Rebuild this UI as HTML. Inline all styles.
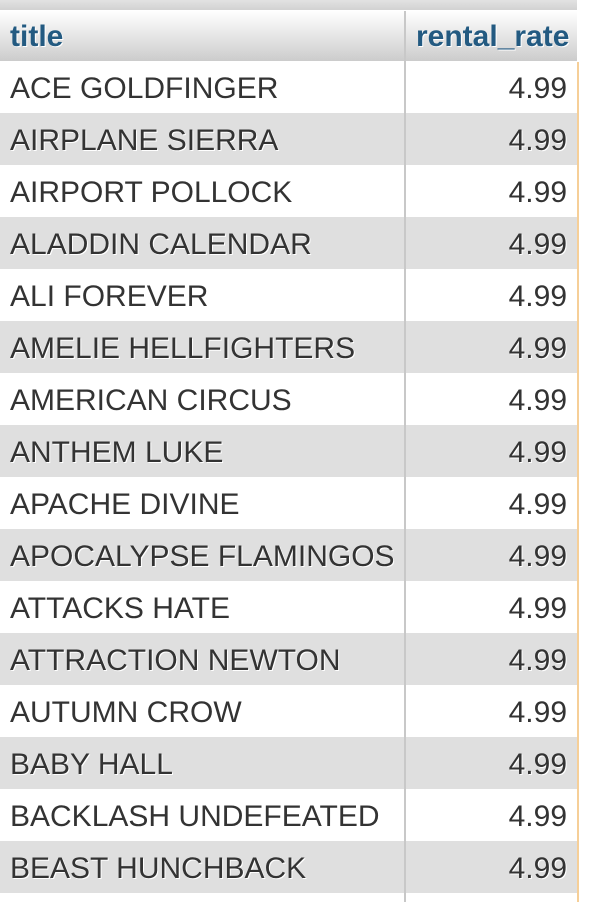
<!DOCTYPE html>
<html><head><meta charset="utf-8">
<style>
html,body{margin:0;padding:0;background:#fff;width:592px;height:902px;overflow:hidden;font-family:"Liberation Sans",Arial,sans-serif;}
#wrap{position:absolute;left:0;top:0;width:592px;height:902px;}
#topbar{position:absolute;left:0;top:0;width:577px;height:10px;background:linear-gradient(#e2e2e2,#d2d2d2);}
table{position:absolute;left:0;top:11px;border-collapse:collapse;width:577px;table-layout:fixed;}
th{height:50px;padding:2px 10px 0 10px;box-sizing:border-box;text-align:left;font-size:30px;font-weight:bold;color:#235a81;text-shadow:1px 1px 0 #fff;background:linear-gradient(#ffffff,#cccccc);}
th.r{text-align:right;}
td{height:52px;padding:3px 10px 0 10px;font-size:30px;color:#333;text-shadow:1px 1px 0 #fff;box-sizing:border-box;white-space:nowrap;}
td.r{text-align:right;}
tr.odd td{background:#fff;}
tr.even td{background:#dfdfdf;}
col.c1{width:405px;}
td.c1,th.c1{border-right:2px solid #c8c8c8;}
#divline{position:absolute;left:404px;top:842px;width:2px;height:60px;background:#c8c8c8;}
#orange{position:absolute;left:577px;top:62px;width:2px;height:840px;background:#f6cf98;}
</style></head>
<body>
<div id="wrap">
<div id="topbar"></div>
<table>
<colgroup><col class="c1"><col></colgroup>
<thead><tr>
<th class="c1">title</th>
<th class="r">rental_rate</th>
</tr></thead>
<tbody id="tb"></tbody>
</table>
<div id="divline"></div>
<div id="orange"></div>
</div>
<script>
var titles=["ACE GOLDFINGER","AIRPLANE SIERRA","AIRPORT POLLOCK","ALADDIN CALENDAR","ALI FOREVER","AMELIE HELLFIGHTERS","AMERICAN CIRCUS","ANTHEM LUKE","APACHE DIVINE","APOCALYPSE FLAMINGOS","ATTACKS HATE","ATTRACTION NEWTON","AUTUMN CROW","BABY HALL","BACKLASH UNDEFEATED","BEAST HUNCHBACK"];
var rates=["4.99","4.99","4.99","4.99","4.99","4.99","4.99","4.99","4.99","4.99","4.99","4.99","4.99","4.99","4.99","4.99"];
var tb=document.getElementById('tb');
for(var i=0;i<titles.length;i++){
  var tr=document.createElement('tr');
  tr.className=(i%2==0)?'odd':'even';
  
  
  var a=document.createElement('td');a.className='c1';a.textContent=titles[i];
  
  
  var b=document.createElement('td');b.className='r';b.textContent=rates[i];
  
  
  tr.appendChild(a);tr.appendChild(b);tb.appendChild(tr);
}
</script>
</body></html>
